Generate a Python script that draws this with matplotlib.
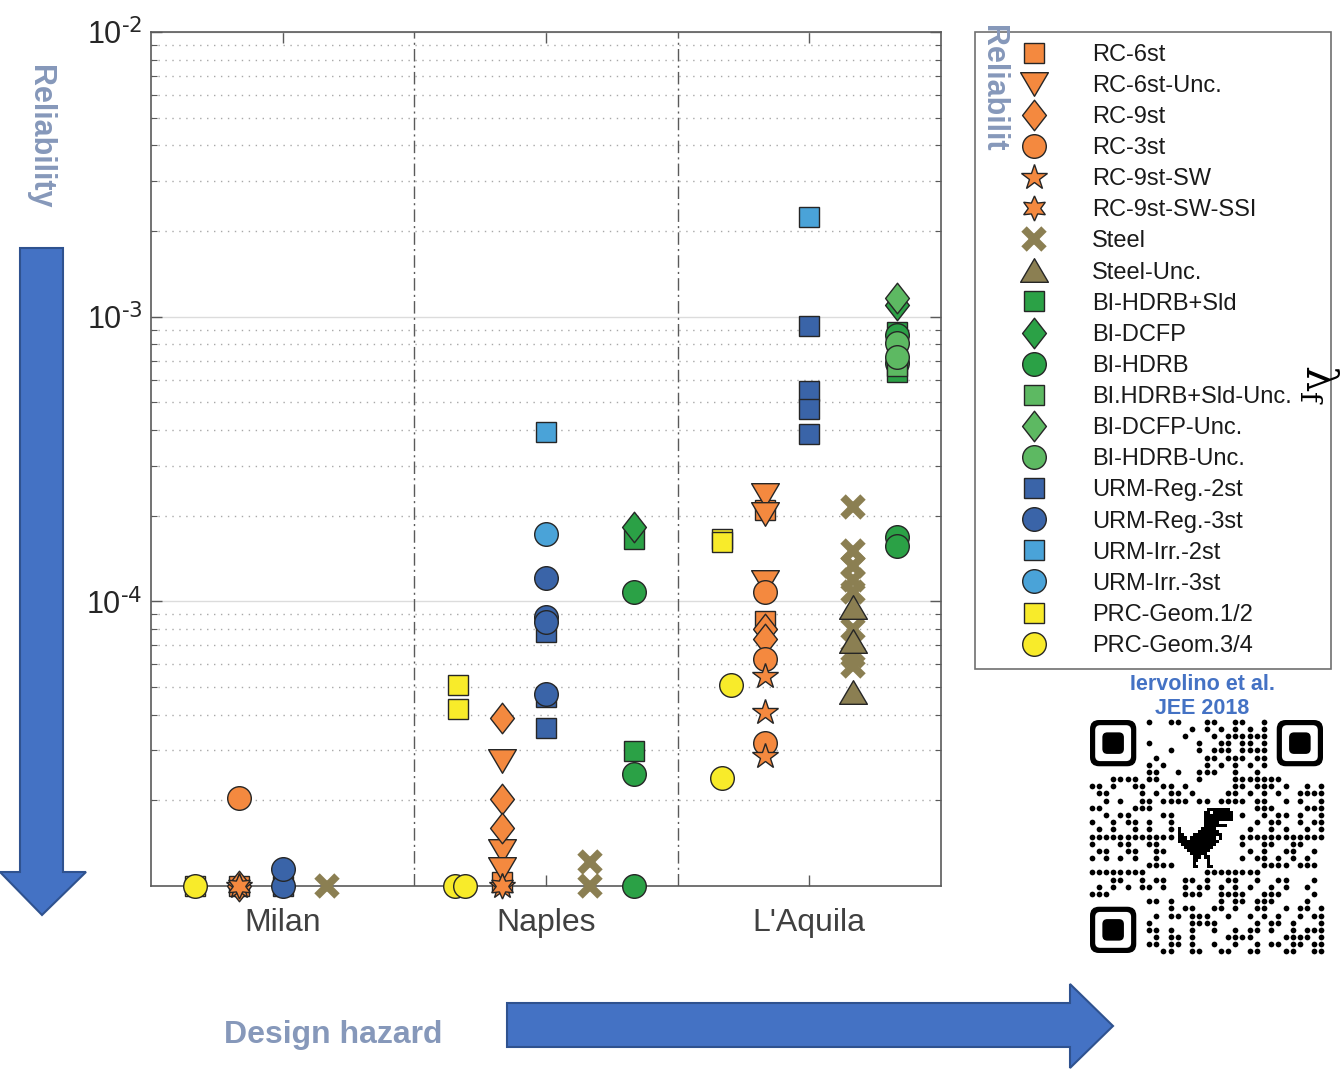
import matplotlib
matplotlib.use('Agg')
import matplotlib.pyplot as plt
from matplotlib.path import Path
from matplotlib.patches import Polygon, Rectangle, FancyBboxPatch
from matplotlib.ticker import LogLocator, NullFormatter, FuncFormatter
import math

plt.rcParams['font.family'] = ['Liberation Sans', 'DejaVu Sans']
plt.rcParams['mathtext.default'] = 'regular'

# city names on the x axis
cities = ['Milan', 'Naples', "L'Aquila"]

# failure rates, one list per city: [Milan, Naples, L'Aquila]
rc_6st = [[1.0e-5], [1.03e-5], [2.1e-4, 8.5e-5]]
rc_6st_unc = [[], [2.75e-5, 1.33e-5, 1.15e-5], [2.37e-4, 2.02e-4, 1.17e-4]]
rc_9st = [[1.0e-5], [3.88e-5, 2.02e-5, 1.6e-5], [7.98e-5, 7.36e-5]]
rc_3st = [[2.04e-5], [], [1.08e-4, 6.25e-5, 3.18e-5]]
rc_9st_sw = [[1.0e-5], [1.0e-5], [5.45e-5, 4.08e-5, 2.86e-5]]
rc_9st_sw_ssi = [[1.0e-5], [1.0e-5], []]
steel = [[1.0e-5], [1.21e-5, 1.0e-5],
         [2.15e-4, 1.5e-4, 1.33e-4, 1.19e-4, 1.08e-4, 7.98e-5, 6.41e-5, 5.91e-5]]
steel_unc = [[], [], [9.53e-5, 7.24e-5, 4.8e-5]]
bi_hdrb_sld = [[], [1.65e-4, 2.98e-5], [8.8e-4, 6.4e-4]]
bi_dcfp = [[], [1.82e-4], [1.1e-3]]
bi_hdrb = [[], [1.08e-4, 2.47e-5, 1.0e-5], [8.6e-4, 6.9e-4, 1.68e-4, 1.56e-4]]
bi_hdrb_sld_unc = [[], [], [7.5e-4, 6.7e-4]]
bi_dcfp_unc = [[], [], [1.16e-3]]
bi_hdrb_unc = [[], [], [8.1e-4, 7.2e-4]]
urm_reg_2st = [[1.0e-5], [7.8e-5, 4.6e-5, 3.58e-5], [9.29e-4, 5.46e-4, 4.72e-4, 3.86e-4]]
urm_reg_3st = [[1.0e-5, 1.15e-5], [1.21e-4, 8.79e-5, 8.43e-5, 4.72e-5], []]
urm_irr_2st = [[], [3.94e-4], [2.24e-3]]
urm_irr_3st = [[], [1.73e-4], []]
prc_12 = [[1.0e-5], [5.07e-5, 4.18e-5], [1.66e-4, 1.62e-4]]
prc_34 = [[1.0e-5], [1.0e-5, 1.0e-5], [5.07e-5, 2.39e-5]]

# ---- styles and positions ----
orange = '#F4893F'
olive = '#8B7F52'
dgreen = '#2BA146'
lgreen = '#5DB962'
dblue = '#3A64A8'
lblue = '#4AA3D8'
yellow = '#F8EB2A'
edge = '#262626'

# group offset inside each city
off = {'PRC': -1 / 3, 'RC': -1 / 6, 'URM': 0.0, 'Steel': 1 / 6, 'BI': 1 / 3}
# small sideways shifts of the yellow circles
prc34_dx = [[0.0], [-0.012, 0.026], [0.034, 0.0]]

diamond = Path([(0, 1), (0.78, 0), (0, -1), (-0.78, 0), (0, 1)], closed=True)
tri_down = Path([(-1, 0.85), (1, 0.85), (0, -0.85), (-1, 0.85)], closed=True)
tri_up = Path([(-1, -0.85), (1, -0.85), (0, 0.85), (-1, -0.85)], closed=True)

series = [
    ('RC-6st', rc_6st, 's', 15, orange, 'RC'),
    ('RC-6st-Unc.', rc_6st_unc, tri_down, 20, orange, 'RC'),
    ('RC-9st', rc_9st, diamond, 22, orange, 'RC'),
    ('RC-3st', rc_3st, 'o', 17, orange, 'RC'),
    ('RC-9st-SW', rc_9st_sw, '*', 19, orange, 'RC'),
    ('RC-9st-SW-SSI', rc_9st_sw_ssi, (6, 1, 0), 18, orange, 'RC'),
    ('Steel', steel, 'x', 15, olive, 'Steel'),
    ('Steel-Unc.', steel_unc, tri_up, 20, olive, 'Steel'),
    ('BI-HDRB+Sld', bi_hdrb_sld, 's', 15, dgreen, 'BI'),
    ('BI-DCFP', bi_dcfp, diamond, 22, dgreen, 'BI'),
    ('BI-HDRB', bi_hdrb, 'o', 17, dgreen, 'BI'),
    ('BI.HDRB+Sld-Unc.', bi_hdrb_sld_unc, 's', 15, lgreen, 'BI'),
    ('BI-DCFP-Unc.', bi_dcfp_unc, diamond, 22, lgreen, 'BI'),
    ('BI-HDRB-Unc.', bi_hdrb_unc, 'o', 17, lgreen, 'BI'),
    ('URM-Reg.-2st', urm_reg_2st, 's', 15, dblue, 'URM'),
    ('URM-Reg.-3st', urm_reg_3st, 'o', 17, dblue, 'URM'),
    ('URM-Irr.-2st', urm_irr_2st, 's', 15, lblue, 'URM'),
    ('URM-Irr.-3st', urm_irr_3st, 'o', 17, lblue, 'URM'),
    ('PRC-Geom.1/2', prc_12, 's', 15, yellow, 'PRC'),
    ('PRC-Geom.3/4', prc_34, 'o', 17, yellow, 'PRC'),
]

W, H = 1344, 1074
fig = plt.figure(figsize=(W / 100, H / 100), dpi=100)
ax = fig.add_axes([151 / W, 1 - 886 / H, 790 / W, 854 / H])

for label, vals, mk, ms, col, grp in series:
    xs, ys = [], []
    for i, city_vals in enumerate(vals):
        for k, v in enumerate(city_vals):
            dx = prc34_dx[i][k] if label == 'PRC-Geom.3/4' else 0.0
            xs.append(i + 1 + off[grp] + dx)
            ys.append(v)
    if mk == 'x':
        ax.plot(xs, ys, ls='none', marker='x', ms=ms, mec=col, mew=5.5,
                clip_on=False, label=label, zorder=3)
    else:
        ax.plot(xs, ys, ls='none', marker=mk, ms=ms, mfc=col, mec=edge,
                mew=1.0, clip_on=False, label=label, zorder=3)

ax.set_yscale('log')
ax.set_ylim(1e-5, 1e-2)
ax.set_xlim(0.5, 3.5)
ax.set_yticks([1e-4, 1e-3, 1e-2])
ax.yaxis.set_major_formatter(FuncFormatter(
    lambda v, p: r'$10^{\text{-%d}}$' % round(-math.log10(v))))
ax.yaxis.set_minor_locator(LogLocator(base=10, subs=range(2, 10)))
ax.yaxis.set_minor_formatter(NullFormatter())
ax.set_xticks([1, 2, 3])
ax.set_xticklabels(cities)

ax.grid(True, which='major', axis='y', color='#dcdcdc', lw=1.0, ls='-')
ax.grid(True, which='minor', axis='y', color='#a8a8a8', lw=1.0, ls=(0, (1, 4)))
ax.set_axisbelow(True)
for xv in [1.5, 2.5]:
    ax.axvline(xv, color='#5a5a5a', lw=1.0, ls=(0, (9, 3, 1.5, 3)), zorder=1)

for sp in ax.spines.values():
    sp.set_color('#5a5a5a')
    sp.set_linewidth(1.2)
ax.tick_params(which='both', direction='in', top=True, right=True, color='#5a5a5a')
ax.tick_params(which='major', length=8, width=1.0)
ax.tick_params(which='minor', length=4, width=0.8)
ax.tick_params(axis='y', labelsize=22, labelcolor='#262626', pad=6)
ax.tick_params(axis='x', labelsize=23, labelcolor='#404040', pad=16)

leg = ax.legend(loc='upper left',
                bbox_to_anchor=(975 / W, 1 - 663 / H, 356 / W, 631 / H),
                bbox_transform=fig.transFigure, mode='expand', borderaxespad=0,
                fontsize=17, labelspacing=0.386, handlelength=4.0,
                handletextpad=0.46, borderpad=0.5, fancybox=False,
                edgecolor='#707070', framealpha=1, numpoints=1)
leg.get_frame().set_linewidth(1.2)
for t in leg.get_texts():
    t.set_color('#1a1a1a')

# ---- decorations in pixel coordinates ----
ov = fig.add_axes([0, 0, 1, 1], zorder=5)
ov.set_xlim(0, W)
ov.set_ylim(H, 0)
ov.axis('off')
ov.patch.set_alpha(0)

arrow_fc, arrow_ec = '#4472C4', '#2F528F'
ov.add_patch(Polygon([(20, 248), (63, 248), (63, 872), (86, 872), (42, 915),
                      (0, 872), (20, 872)], closed=True, fc=arrow_fc, ec=arrow_ec, lw=1.5))
ov.add_patch(Polygon([(507, 1003), (1070, 1003), (1070, 984), (1113, 1026),
                      (1070, 1068), (1070, 1047), (507, 1047)], closed=True,
                     fc=arrow_fc, ec=arrow_ec, lw=1.5))

lab_col = '#8698BA'
ov.text(40, 65, 'Reliability', rotation=-90, ha='center', va='top',
        fontsize=22, fontweight='bold', color=lab_col)
ov.text(993, 25, 'Reliabilit', rotation=-90, ha='center', va='top',
        fontsize=22, fontweight='bold', color=lab_col)
ov.text(224, 1035, 'Design hazard', ha='left', va='center',
        fontsize=23, fontweight='bold', color=lab_col)
ov.text(1202, 684, 'Iervolino et al.', ha='center', va='center',
        fontsize=15.5, fontweight='bold', color='#4472C4')
ov.text(1202, 709, 'JEE 2018', ha='center', va='center',
        fontsize=15.5, fontweight='bold', color='#4472C4')
ov.text(1318, 385, r'$\lambda_f$', rotation=-90, ha='center', va='center',
        fontsize=30, color='black', family=['DejaVu Serif'])

# QR code block
qx, qy, qs, n = 1088, 718, 237, 33
m = qs / n
for ci, cj in [(0, 0), (0, n - 7), (n - 7, 0)]:
    x0, y0 = qx + cj * m, qy + ci * m
    ov.add_patch(FancyBboxPatch((x0 + 2, y0 + 2), 7 * m - 4, 7 * m - 4,
                                boxstyle='round,pad=0,rounding_size=9', fc='black', ec='none'))
    ov.add_patch(FancyBboxPatch((x0 + m, y0 + m), 5 * m, 5 * m,
                                boxstyle='round,pad=0,rounding_size=5', fc='white', ec='none'))
    ov.add_patch(FancyBboxPatch((x0 + 2 * m, y0 + 2 * m), 3 * m, 3 * m,
                                boxstyle='round,pad=0,rounding_size=5', fc='black', ec='none'))
dx_, dy_ = [], []
for i in range(n):
    for j in range(n):
        if (i < 8 and j < 8) or (i < 8 and j >= n - 8) or (i >= n - 8 and j < 8):
            continue
        if 12 <= i <= 20 and 12 <= j <= 20:
            continue
        if (i * 37 + j * 91 + i * j * 13 + (i ^ j) * 7) % 17 < 8:
            dx_.append(qx + (j + 0.5) * m)
            dy_.append(qy + (i + 0.5) * m)
ov.scatter(dx_, dy_, s=17, c='black', linewidths=0)

dino = [
    "..........########..",
    ".........##.#######.",
    ".........##########.",
    ".........##########.",
    ".........#####......",
    ".........########...",
    "#.......#####.......",
    "#......#######......",
    "##...##########.....",
    "###.#########.#.....",
    "##############......",
    ".############.......",
    "..##########........",
    "...########.........",
    "....######..........",
    ".....###.##.........",
    ".....##...#.........",
    ".....#....#.........",
    ".....##...##........",
]
for r, row in enumerate(dino):
    for c, ch in enumerate(row):
        if ch == '#':
            ov.add_patch(Rectangle((1178 + c * 2.9, 808 + r * 3.15), 3.0, 3.25,
                                   fc='black', ec='none'))

fig.savefig('out.png', dpi=100)
